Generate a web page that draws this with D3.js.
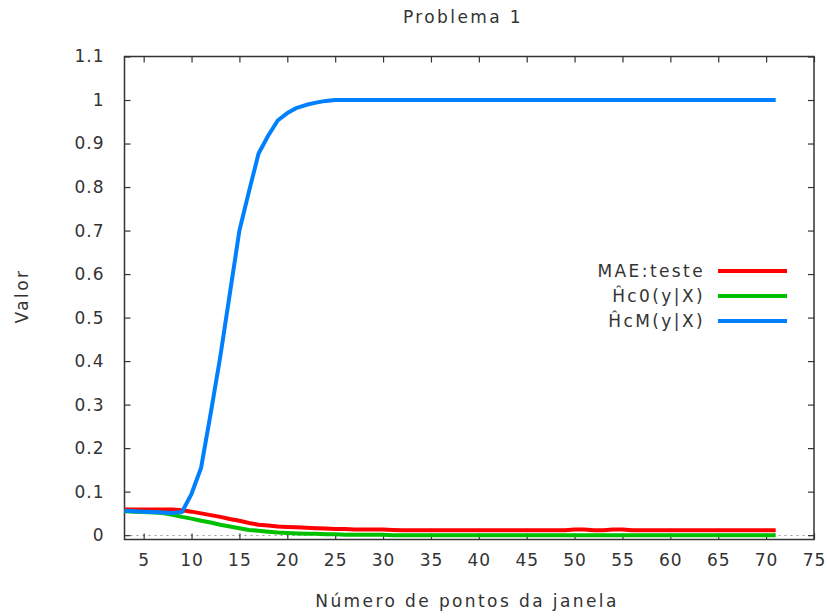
<!DOCTYPE html>
<html>
<head>
<meta charset="utf-8">
<script src="https://cdn.jsdelivr.net/npm/d3@7"></script>
<style>
  body { margin: 0; background: #fff; }
  text { font-family: "DejaVu Sans", sans-serif; fill: #333; }
  .lbl { letter-spacing: 2.4px; }
</style>
</head>
<body>
<svg id="chart" width="827" height="616"></svg>
<script>
// window sizes (x)
const windowSizes = [3, 4, 5, 6, 7, 8, 9, 10, 11, 12, 13, 14, 15, 16, 17, 18, 19, 20,
  21, 22, 23, 24, 25, 26, 27, 28, 29, 30, 31, 32, 33, 34, 35, 36, 37, 38, 39, 40,
  41, 42, 43, 44, 45, 46, 47, 48, 49, 50, 51, 52, 53, 54, 55, 56, 57, 58, 59, 60,
  61, 62, 63, 64, 65, 66, 67, 68, 69, 70, 71]

// MAE:teste
const maeTeste = [0.059, 0.059, 0.059, 0.059, 0.059, 0.059, 0.057, 0.054, 0.050, 0.046,
  0.042, 0.037, 0.033, 0.028, 0.024, 0.022, 0.020, 0.019, 0.018, 0.017, 0.016, 0.015,
  0.014, 0.014, 0.013, 0.013, 0.013, 0.013, 0.012, 0.011, 0.011, 0.011, 0.011, 0.011,
  0.011, 0.011, 0.011, 0.011, 0.011, 0.011, 0.011, 0.011, 0.011, 0.011, 0.011, 0.011,
  0.011, 0.013, 0.013, 0.011, 0.011, 0.013, 0.013, 0.011, 0.011, 0.011, 0.011, 0.011,
  0.011, 0.011, 0.011, 0.011, 0.011, 0.011, 0.011, 0.011, 0.011, 0.011, 0.011]

// Hc0(y|X)
const hc0 = [0.055, 0.054, 0.053, 0.052, 0.051, 0.047, 0.042, 0.038, 0.033, 0.029,
  0.024, 0.020, 0.016, 0.012, 0.010, 0.008, 0.006, 0.005, 0.004, 0.003, 0.003, 0.002,
  0.002, 0.001, 0.001, 0.001, 0.001, 0.001, 0, 0, 0, 0, 0, 0, 0, 0, 0, 0, 0, 0, 0, 0,
  0, 0, 0, 0, 0, 0, 0, 0, 0, 0, 0, 0, 0, 0, 0, 0, 0, 0, 0, 0, 0, 0, 0, 0, 0, 0, 0]

// HcM(y|X)
const hcM = [0.056, 0.055, 0.054, 0.053, 0.052, 0.051, 0.053, 0.095, 0.155, 0.28,
  0.41, 0.555, 0.70, 0.79, 0.877, 0.918, 0.953, 0.97, 0.982, 0.989, 0.994, 0.998,
  1, 1, 1, 1, 1, 1, 1, 1, 1, 1, 1, 1, 1, 1, 1, 1, 1, 1, 1, 1, 1, 1, 1, 1, 1, 1, 1,
  1, 1, 1, 1, 1, 1, 1, 1, 1, 1, 1, 1, 1, 1, 1, 1, 1, 1, 1, 1]

const seriesNames = ["MAE:teste", "\u0124c0(y|X)", "\u0124cM(y|X)"]
const seriesColors = ["#ff0000", "#00c000", "#0080ff"]
const seriesValues = [maeTeste, hc0, hcM]

const xTicks = [5, 10, 15, 20, 25, 30, 35, 40, 45, 50, 55, 60, 65, 70, 75]
const yTicks = [0, 0.1, 0.2, 0.3, 0.4, 0.5, 0.6, 0.7, 0.8, 0.9, 1, 1.1]

const svg = d3.select('#chart')
const plotLeft = 124.5, plotRight = 814, plotTop = 56.5, plotBottom = 539.5

const x = d3.scaleLinear().domain([3, 75]).range([plotLeft, plotRight])
const y = d3.scaleLinear().domain([-0.01, 1.1]).range([plotBottom, plotTop])

// zero line
svg.append('line')
  .attr('x1', plotLeft).attr('x2', plotRight)
  .attr('y1', Math.round(y(0)) + 0.5).attr('y2', Math.round(y(0)) + 0.5)
  .attr('stroke', '#999').attr('stroke-width', 1).attr('stroke-dasharray', '2,4')

// axes, ticks inward
function styleAxis(g) {
  g.select('.domain').remove()
  g.selectAll('.tick line').attr('stroke', '#333').attr('stroke-width', 1.2)
  g.selectAll('.tick text').attr('font-size', 17).attr('fill', '#333')
    .style('font-family', '"DejaVu Sans", sans-serif')
    .style('letter-spacing', '1px')
}

svg.append('g').attr('transform', `translate(0,${plotBottom})`)
  .call(d3.axisBottom(x).tickValues(xTicks).tickSize(-6).tickPadding(14).tickFormat(d3.format('d')))
  .call(styleAxis)
svg.append('g').attr('transform', `translate(0,${plotTop})`)
  .call(d3.axisTop(x).tickValues(xTicks).tickSize(-6).tickFormat(''))
  .call(styleAxis)
svg.append('g').attr('transform', `translate(${plotLeft},0)`)
  .call(d3.axisLeft(y).tickValues(yTicks).tickSize(-6).tickPadding(20).tickFormat(d => d3.format('')(+d.toFixed(1))))
  .call(styleAxis)
svg.append('g').attr('transform', `translate(${plotRight},0)`)
  .call(d3.axisRight(y).tickValues(yTicks).tickSize(-6).tickFormat(''))
  .call(styleAxis)

// border
svg.append('rect')
  .attr('x', plotLeft).attr('y', plotTop)
  .attr('width', plotRight - plotLeft).attr('height', plotBottom - plotTop)
  .attr('fill', 'none').attr('stroke', '#333').attr('stroke-width', 1.5)

// lines
const line = d3.line()
  .x((d, i) => x(windowSizes[i]))
  .y(d => y(d))

seriesValues.forEach((vals, k) => {
  svg.append('path')
    .datum(vals)
    .attr('d', line)
    .attr('fill', 'none')
    .attr('stroke', seriesColors[k])
    .attr('stroke-width', 4)
    .attr('stroke-linejoin', 'round')
})

// legend
const legend = svg.append('g')
seriesNames.forEach((name, k) => {
  const ly = 271 + k * 25
  legend.append('text')
    .attr('class', 'lbl')
    .attr('x', 705).attr('y', ly).attr('dy', '0.35em')
    .attr('text-anchor', 'end')
    .attr('font-size', 17)
    .text(name)
  legend.append('line')
    .attr('x1', 718).attr('x2', 787)
    .attr('y1', ly).attr('y2', ly)
    .attr('stroke', seriesColors[k]).attr('stroke-width', 4)
})

// titles
svg.append('text')
  .attr('class', 'lbl')
  .attr('x', 463).attr('y', 17).attr('dy', '0.35em')
  .attr('text-anchor', 'middle').attr('font-size', 17)
  .text('Problema 1')

svg.append('text')
  .attr('class', 'lbl')
  .attr('x', 467).attr('y', 601).attr('dy', '0.35em')
  .attr('text-anchor', 'middle').attr('font-size', 17)
  .text('Número de pontos da janela')

svg.append('text')
  .attr('class', 'lbl')
  .attr('transform', 'translate(22,296) rotate(-90)')
  .attr('dy', '0.35em')
  .attr('text-anchor', 'middle').attr('font-size', 17)
  .text('Valor')
</script>
</body>
</html>
